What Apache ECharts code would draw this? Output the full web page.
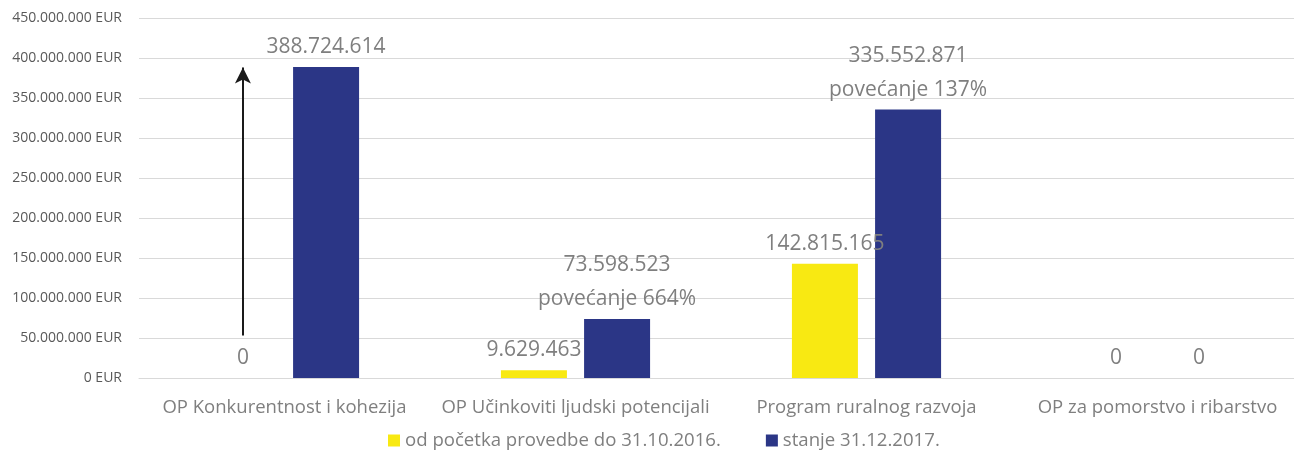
<!DOCTYPE html>
<html>
<head>
<meta charset="utf-8">
<script src="https://cdn.jsdelivr.net/npm/echarts@6/dist/echarts.min.js"></script>
<style>
html,body{margin:0;padding:0;background:#fff;overflow:hidden;width:1294px;height:454px;}
#chart{width:1303px;height:454px;}
</style>
</head>
<body>
<div id="chart"></div>
<script>
var categories = ['OP Konkurentnost i kohezija', 'OP Učinkoviti ljudski potencijali', 'Program ruralnog razvoja', 'OP za pomorstvo i ribarstvo'];
var seriesNames = ['od početka provedbe do 31.10.2016.', 'stanje 31.12.2017.'];
var values2016 = [0, 9629463, 142815165, 0];
var values2017 = [388724614, 73598523, 335552871, 0];
var increaseNotes = ['', 'povećanje 664%', 'povećanje 137%', ''];
var arrowFrom = 53000000;
var arrowTo = 388000000;
var yMin = 0, yMax = 450000000, yStep = 50000000;

function fmt(n) {
  return String(Math.round(n)).replace(/\B(?=(\d{3})+(?!\d))/g, '.');
}

var FONT = 'Open Sans';
var chart = echarts.init(document.getElementById('chart'), null, {renderer: 'canvas'});
var labelCommon = {
  show: true,
  position: 'top',
  distance: 3,
  color: '#7f7f7f',
  fontFamily: FONT,
  fontSize: 21,
  lineHeight: 34
};
chart.setOption({
  animation: false,
  textStyle: {fontFamily: FONT},
  grid: {left: 139, top: 18, bottom: 76, right: 0, containLabel: false},
  legend: {
    bottom: -1,
    left: 383,
    itemWidth: 12,
    itemHeight: 12,
    itemGap: 45,
    icon: 'rect',
    textStyle: {color: '#7f7f7f', fontSize: 18.6, fontFamily: FONT},
    data: seriesNames
  },
  xAxis: {
    type: 'category',
    data: categories,
    axisTick: {show: false},
    axisLine: {lineStyle: {color: '#d9d9d9', width: 1}},
    axisLabel: {color: '#7f7f7f', fontSize: 18.5, fontFamily: FONT, margin: 20, interval: 0}
  },
  yAxis: {
    type: 'value',
    min: yMin,
    max: yMax,
    interval: yStep,
    axisLine: {show: false},
    axisTick: {show: false},
    splitLine: {lineStyle: {color: '#d9d9d9', width: 1}},
    axisLabel: {
      color: '#595959', fontSize: 14, fontFamily: FONT, margin: 17,
      formatter: function (v) { return fmt(v) + ' EUR'; }
    }
  },
  series: [
    {
      name: seriesNames[0],
      type: 'bar',
      data: values2016,
      barWidth: 66,
      barGap: '26%',
      itemStyle: {color: '#F8E912'},
      label: Object.assign({}, labelCommon, {
        formatter: function (p) { return fmt(p.value); }
      }),
      markLine: {
        silent: true,
        symbol: ['none', 'arrow'],
        symbolSize: [12, 16],
        label: {show: false},
        emphasis: {disabled: true},
        lineStyle: {color: '#1a1a1a', width: 2, type: 'solid'},
        data: [[{coord: [0, arrowFrom]}, {coord: [0, arrowTo]}]]
      }
    },
    {
      name: seriesNames[1],
      type: 'bar',
      data: values2017,
      barWidth: 66,
      itemStyle: {color: '#2B3686'},
      label: Object.assign({}, labelCommon, {
        formatter: function (p) {
          var note = increaseNotes[p.dataIndex];
          return fmt(p.value) + (note ? '\n' + note : '');
        }
      })
    }
  ]
});
</script>
</body>
</html>
